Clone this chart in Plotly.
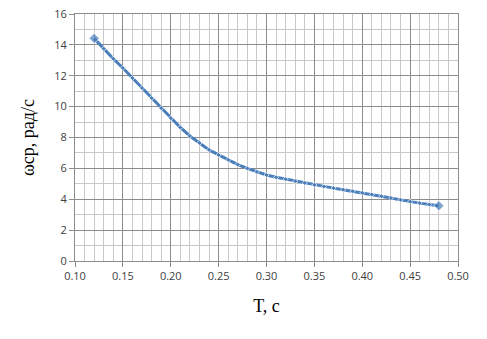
import plotly.graph_objects as go

T_values = [0.12, 0.13, 0.14, 0.15, 0.16, 0.17, 0.18, 0.19, 0.20, 0.21, 0.22, 0.23,
            0.24, 0.25, 0.26, 0.27, 0.28, 0.29, 0.30, 0.31, 0.32, 0.33, 0.34, 0.35,
            0.36, 0.37, 0.38, 0.39, 0.40, 0.41, 0.42, 0.43, 0.44, 0.45, 0.46, 0.47, 0.48]
omega_values = [14.42, 13.75, 13.1, 12.5, 11.85, 11.2, 10.55, 9.9, 9.25, 8.65, 8.1, 7.65,
                7.2, 6.87, 6.55, 6.25, 6.0, 5.77, 5.57, 5.42, 5.3, 5.17, 5.05, 4.92,
                4.82, 4.72, 4.62, 4.52, 4.42, 4.31, 4.2, 4.08, 3.96, 3.84, 3.75, 3.66, 3.58]

x_title = "T, с"
y_title = "ωср, рад/с"

line_color = "#4a7ebb"
major_grid = "#8c8c8c"
minor_grid = "#c8c8c8"
tick_color = "#404040"

n = len(T_values)
marker_sizes = [8] + [4] * (n - 2) + [8]

fig = go.Figure()
fig.add_trace(go.Scatter(
    x=T_values, y=omega_values, mode="lines+markers",
    line=dict(color=line_color, width=3),
    marker=dict(symbol="diamond", size=marker_sizes, color=line_color),
    showlegend=False,
))

fig.update_layout(
    width=487, height=339,
    margin=dict(l=75, r=29, t=14, b=78, autoexpand=False),
    paper_bgcolor="white", plot_bgcolor="white",
    font=dict(family="Open Sans, Liberation Sans, sans-serif", size=11, color=tick_color),
)

fig.update_xaxes(
    range=[0.10, 0.50], dtick=0.05, tick0=0.10, tickformat=".2f",
    showgrid=True, gridcolor=major_grid, gridwidth=1,
    minor=dict(dtick=0.01, showgrid=True, gridcolor=minor_grid, gridwidth=1),
    showline=True, linecolor=major_grid, linewidth=1, mirror=True,
    ticks="outside", ticklen=5, tickcolor=major_grid,
    zeroline=False, automargin=False,
    title=dict(text=x_title, font=dict(family="Liberation Serif, Times New Roman, serif", size=18, color="#000000"), standoff=17),
    tickfont=dict(size=11, color=tick_color),
)
fig.update_yaxes(
    range=[0, 16], dtick=2, tick0=0,
    showgrid=True, gridcolor=major_grid, gridwidth=1,
    minor=dict(dtick=1, showgrid=True, gridcolor=minor_grid, gridwidth=1),
    showline=True, linecolor=major_grid, linewidth=1, mirror=True,
    ticks="outside", ticklen=5, tickcolor=major_grid,
    zeroline=False, automargin=False,
    title=dict(text=y_title, font=dict(family="Liberation Serif, Times New Roman, serif", size=18, color="#000000"), standoff=14),
    tickfont=dict(size=11, color=tick_color),
)

# remove the browser's default body margin so the figure fills the window
fig.write_html("out.html", config={"displayModeBar": False},
               post_script="document.body.style.margin='0px';")
